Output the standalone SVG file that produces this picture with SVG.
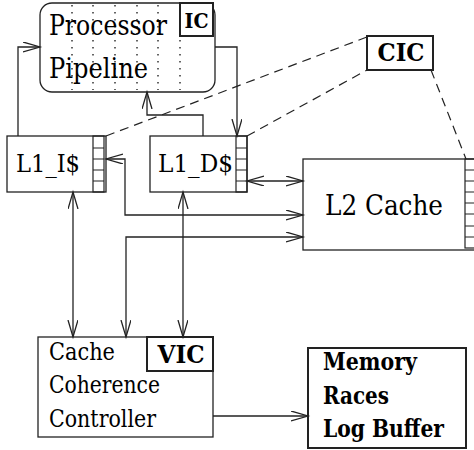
<svg xmlns="http://www.w3.org/2000/svg" width="474" height="450" viewBox="0 0 474 450">
<defs>
<style>
.box{fill:#fff;stroke:#222;stroke-width:1.3}
.tag{fill:#fff;stroke:#222;stroke-width:2}
.stk{fill:none;stroke:#222;stroke-width:1.2}
text{fill:#000;font-family:'DejaVu Serif',serif}
.b{font-weight:bold}
.c{fill:none;stroke:#222;stroke-width:1.3}
.d{fill:none;stroke:#222;stroke-width:1.2;stroke-dasharray:9 6}
.dot{stroke:#333;stroke-width:1.5;stroke-dasharray:1.5 5.5}
</style>
<marker id="a" markerUnits="userSpaceOnUse" markerWidth="20" markerHeight="12" refX="17" refY="5" orient="auto-start-reverse">
<path d="M0,0 L17,5 L0,10" fill="none" stroke="#222" stroke-width="1.3"/>
</marker>
</defs>
<g id="processor">
<rect class="box" x="40" y="3" width="175" height="89" rx="12"/>
<g class="dot">
<line x1="72" y1="5" x2="72" y2="90"/>
<line x1="93" y1="5" x2="93" y2="90"/>
<line x1="115" y1="5" x2="115" y2="90"/>
<line x1="137" y1="5" x2="137" y2="90"/>
<line x1="158" y1="5" x2="158" y2="90"/>
<line x1="180" y1="5" x2="180" y2="90"/>
</g>
<text x="49" y="35" font-size="27.2" textLength="118" lengthAdjust="spacingAndGlyphs">Processor</text>
<text x="49" y="78" font-size="27.2" textLength="99" lengthAdjust="spacingAndGlyphs">Pipeline</text>
<rect class="tag" x="180" y="3" width="33" height="33"/>
<text class="b" x="196.5" y="28" font-size="20" text-anchor="middle" textLength="24" lengthAdjust="spacingAndGlyphs">IC</text>
</g>
<g id="cic">
<rect class="tag" x="367" y="36" width="66" height="34"/>
<text class="b" x="401" y="61" font-size="23.6" text-anchor="middle" textLength="47" lengthAdjust="spacingAndGlyphs">CIC</text>
</g>
<g id="l1i">
<rect class="box" x="7" y="136" width="99" height="56"/>
<rect class="stk" x="93" y="136" width="11" height="56"/>
<path class="stk" d="M93,148H104M93,159H104M93,170H104M93,181H104"/>
<text x="16" y="172" font-size="25" textLength="64" lengthAdjust="spacingAndGlyphs">L1_I$</text>
</g>
<g id="l1d">
<rect class="box" x="150" y="136" width="97" height="56"/>
<rect class="stk" x="236" y="136" width="11" height="56"/>
<path class="stk" d="M236,148H247M236,159H247M236,170H247M236,181H247"/>
<text x="158" y="172" font-size="25" textLength="75" lengthAdjust="spacingAndGlyphs">L1_D$</text>
</g>
<g id="l2">
<rect class="box" x="303" y="159" width="175" height="91"/>
<rect class="stk" x="465" y="159" width="12" height="89"/>
<path class="stk" d="M465,170H474M465,181H474M465,192H474M465,203H474M465,214H474M465,226H474M465,237H474"/>
<text x="325" y="215" font-size="28" textLength="118" lengthAdjust="spacingAndGlyphs">L2 Cache</text>
</g>
<g id="ccc">
<rect class="box" x="38" y="337" width="175" height="100"/>
<text x="49" y="360" font-size="23.6" textLength="66" lengthAdjust="spacingAndGlyphs">Cache</text>
<text x="49" y="393" font-size="23.6" textLength="111" lengthAdjust="spacingAndGlyphs">Coherence</text>
<text x="49" y="427" font-size="23.6" textLength="107" lengthAdjust="spacingAndGlyphs">Controller</text>
<rect class="tag" x="147" y="337" width="66" height="34"/>
<text class="b" x="181" y="363" font-size="23.6" text-anchor="middle" textLength="47" lengthAdjust="spacingAndGlyphs">VIC</text>
</g>
<g id="mrlb">
<rect class="tag" x="308" y="348" width="158" height="100"/>
<text class="b" x="323" y="370" font-size="23.6" textLength="94" lengthAdjust="spacingAndGlyphs">Memory</text>
<text class="b" x="323" y="404" font-size="23.6" textLength="66" lengthAdjust="spacingAndGlyphs">Races</text>
<text class="b" x="323" y="437" font-size="23.6" textLength="121" lengthAdjust="spacingAndGlyphs">Log Buffer</text>
</g>
<g id="connectors">
<path class="c" d="M18,136V47H40" marker-end="url(#a)"/>
<path class="c" d="M215,47H237V136" marker-end="url(#a)"/>
<path class="c" d="M203,136V115H147V92" marker-end="url(#a)"/>
<path class="c" d="M106,159H125V215H303" marker-start="url(#a)" marker-end="url(#a)"/>
<path class="c" d="M247,181H303" marker-start="url(#a)" marker-end="url(#a)"/>
<path class="c" d="M73,192V337" marker-start="url(#a)" marker-end="url(#a)"/>
<path class="c" d="M183,192V337" marker-start="url(#a)" marker-end="url(#a)"/>
<path class="c" d="M303,237H126V337" marker-start="url(#a)" marker-end="url(#a)"/>
<path class="c" d="M213,416H308" marker-end="url(#a)"/>
<path class="d" d="M106,136L367,37"/>
<path class="d" d="M247,136L367,70"/>
<path class="d" d="M431,70L466,159"/>
</g>
</svg>
